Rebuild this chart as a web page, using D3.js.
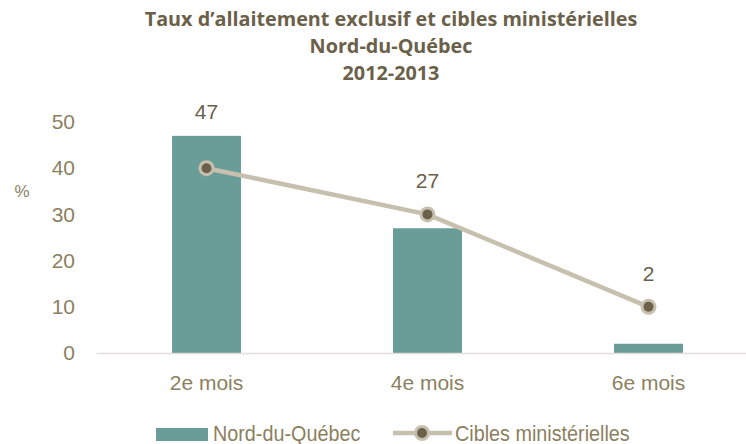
<!DOCTYPE html>
<html>
<head>
<meta charset="utf-8">
<script src="https://cdn.jsdelivr.net/npm/d3@7"></script>
<style>
  body { margin: 0; background: #fff; }
  text { font-family: "Liberation Sans", Arial, sans-serif; }
  .title { font-family: "Open Sans", "Noto Sans", sans-serif; font-weight: bold; }
</style>
</head>
<body>
<div id="chart"></div>
<script>
// data
var categories = ["2e mois", "4e mois", "6e mois"];
var regionValues = [47, 27, 2];
var targetValues = [40, 30, 10];
var yTicks = [0, 10, 20, 30, 40, 50];
var titleLines = ["Taux d\u2019allaitement exclusif et cibles minist\u00e9rielles", "Nord-du-Qu\u00e9bec", "2012-2013"];
var legendLabels = ["Nord-du-Qu\u00e9bec", "Cibles minist\u00e9rielles"];

var svgWidth = 746, svgHeight = 444;
var margin = { top: 122, right: 0, bottom: 91, left: 96 };
var width = svgWidth - margin.left - margin.right;
var height = svgHeight - margin.top - margin.bottom;

var barColor = "#6a9c98";
var lineColor = "#c8c0ae";
var dotColor = "#6b6049";
var labelColor = "#8c7f5f";

var svg = d3.select("#chart").append("svg")
  .attr("width", svgWidth)
  .attr("height", svgHeight);

var chartGroup = svg.append("g")
  .attr("transform", `translate(${margin.left}, ${margin.top})`);

// title
svg.selectAll(".title").data(titleLines).enter()
  .append("text")
  .attr("class", "title")
  .attr("x", 391)
  .attr("y", (d, i) => 26 + i * 27)
  .attr("text-anchor", "middle")
  .attr("font-size", "19.8px")
  .attr("fill", dotColor)
  .text(d => d);

// scales (each category gets a 221px slot)
var x = d3.scaleBand().domain(categories).range([0, 663]).padding(0);
var y = d3.scaleLinear().domain([0, 50]).range([height, 0]);
var cx = c => x(c) + x.bandwidth() / 2;

// y axis labels
var leftAxis = d3.axisLeft(y).tickValues(yTicks).tickSize(0).tickPadding(21);
var yAxis = chartGroup.append("g").call(leftAxis);
yAxis.select(".domain").remove();
yAxis.selectAll("text")
  .attr("font-size", "21px")
  .attr("fill", labelColor)
  .style("font-family", "'Liberation Sans', Arial, sans-serif");

svg.append("text")
  .attr("x", 22)
  .attr("y", 197)
  .attr("text-anchor", "middle")
  .attr("font-size", "17px")
  .attr("fill", labelColor)
  .text("%");

// bars
var barW = 69;
chartGroup.selectAll(".bar").data(regionValues).enter()
  .append("rect")
  .attr("class", "bar")
  .attr("x", (d, i) => cx(categories[i]) - barW / 2)
  .attr("y", d => y(d))
  .attr("width", barW)
  .attr("height", d => height - y(d))
  .attr("fill", barColor);

// x axis
var bottomAxis = d3.axisBottom(x).tickSize(0).tickPadding(22);
var xAxis = chartGroup.append("g")
  .attr("transform", `translate(0, ${height})`)
  .call(bottomAxis);
xAxis.select(".domain").attr("stroke", "#e2dfd7").attr("stroke-width", 1.5);
xAxis.selectAll("text")
  .attr("font-size", "21px")
  .attr("fill", labelColor)
  .style("font-family", "'Liberation Sans', Arial, sans-serif");

// value labels, kept clear of the target line
chartGroup.selectAll(".vlabel").data(regionValues).enter()
  .append("text")
  .attr("class", "vlabel")
  .attr("x", (d, i) => cx(categories[i]))
  .attr("y", (d, i) => Math.min(y(d) - 17, y(targetValues[i]) - 26))
  .attr("text-anchor", "middle")
  .attr("font-size", "21px")
  .attr("fill", dotColor)
  .text(d => d);

// target line
var line = d3.line()
  .x((d, i) => cx(categories[i]))
  .y(d => y(d));
chartGroup.append("path")
  .datum(targetValues)
  .attr("d", line)
  .attr("fill", "none")
  .attr("stroke", lineColor)
  .attr("stroke-width", 4.5);

var markers = chartGroup.selectAll(".marker").data(targetValues).enter()
  .append("g")
  .attr("transform", (d, i) => `translate(${cx(categories[i])}, ${y(d)})`);
markers.append("circle").attr("r", 8).attr("fill", lineColor);
markers.append("circle").attr("r", 5).attr("fill", dotColor);

// legend
var legend = svg.append("g");
legend.append("rect")
  .attr("x", 156).attr("y", 428).attr("width", 52).attr("height", 13)
  .attr("fill", barColor);
legend.append("text")
  .attr("transform", "translate(213, 441) scale(0.9, 1)")
  .attr("font-size", "22px").attr("fill", labelColor)
  .text(legendLabels[0]);
legend.append("line")
  .attr("x1", 393).attr("x2", 452).attr("y1", 433).attr("y2", 433)
  .attr("stroke", lineColor).attr("stroke-width", 4.5);
legend.append("circle").attr("cx", 422).attr("cy", 433).attr("r", 8).attr("fill", lineColor);
legend.append("circle").attr("cx", 422).attr("cy", 433).attr("r", 5).attr("fill", dotColor);
legend.append("text")
  .attr("transform", "translate(455, 441) scale(0.9, 1)")
  .attr("font-size", "22px").attr("fill", labelColor)
  .text(legendLabels[1]);
</script>
</body>
</html>
